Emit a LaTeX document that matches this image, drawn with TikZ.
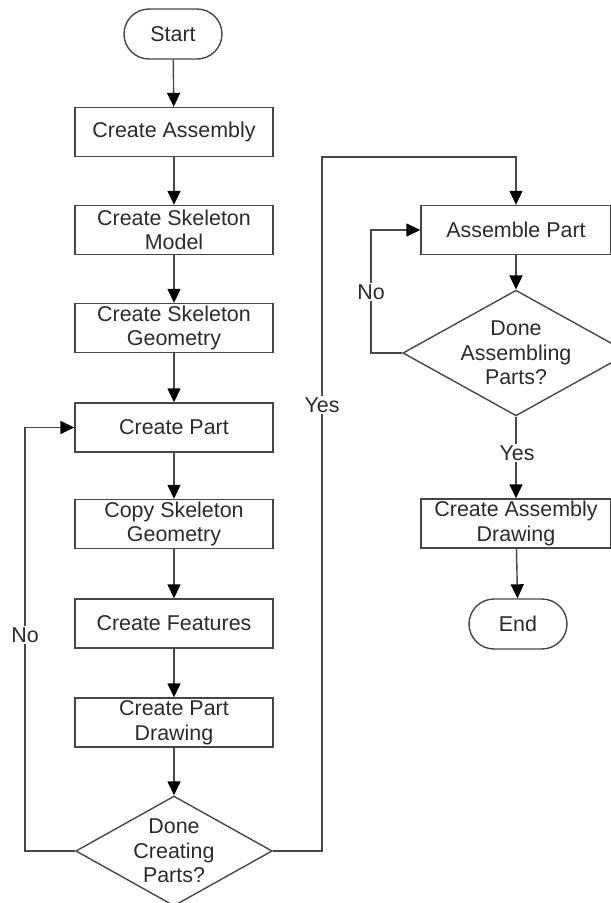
\documentclass[tikz,border=0pt]{standalone}
\usepackage{fontspec}
\setmainfont{Liberation Sans}
\usetikzlibrary{arrows.meta}
\usetikzlibrary{shapes.geometric,shapes.misc}

\definecolor{linegray}{HTML}{474747}
\definecolor{textgray}{HTML}{2B2B2B}

\tikzset{
  every node/.style={font=\fontsize{12.2}{14}\selectfont, text=textgray},
  stepbox/.style={draw=linegray, line width=0.8pt, rectangle, align=center,
    minimum width=3.96cm, minimum height=0.98cm, inner sep=0pt},
  rstepbox/.style={stepbox, minimum width=3.8cm},
  term/.style={draw=linegray, line width=0.8pt, rounded rectangle, align=center,
    minimum width=1.96cm, minimum height=1cm, inner sep=0pt},
  decide/.style={draw=linegray, line width=0.8pt, diamond, align=center,
    aspect=1.8, inner sep=0pt},
  lbl/.style={fill=white, inner sep=1pt},
  arr/.style={draw=linegray, line width=0.8pt,
    -{Triangle[length=0.28cm,width=0.26cm,fill=black,color=black]}}
}

\begin{document}
\begin{tikzpicture}[x=0.02cm,y=-0.02cm]
\useasboundingbox (0,0) rectangle (611,903);

% left column
\node[term] (start) at (173,34) {Start};
\node[stepbox] (asm) at (174,132) {Create Assembly};
\node[stepbox] (skm) at (174,230) {Create Skeleton\\Model};
\node[stepbox] (skg) at (174,328) {Create Skeleton\\Geometry};
\node[stepbox] (part) at (174,427.5) {Create Part};
\node[stepbox] (copy) at (174,524) {Copy Skeleton\\Geometry};
\node[stepbox] (feat) at (174,623.5) {Create Features};
\node[stepbox] (pdraw) at (174,722.5) {Create Part\\Drawing};
\node[decide, minimum width=3.84cm, minimum height=2.2cm] (done1) at (174,851)
  {Done\\Creating\\Parts?};

% right column
\node[rstepbox] (apart) at (516,230) {Assemble Part};
\node[decide, minimum width=3.8cm, minimum height=2.16cm] (done2) at (516,353)
  {Done\\Assembling\\Parts?};
\node[rstepbox] (cad) at (516,523.5) {Create Assembly\\Drawing};
\node[term] (end) at (518,624) {End};

% straight links
\draw[arr] (start) -- (asm);
\draw[arr] (asm) -- (skm);
\draw[arr] (skm) -- (skg);
\draw[arr] (skg) -- (part);
\draw[arr] (part) -- (copy);
\draw[arr] (copy) -- (feat);
\draw[arr] (feat) -- (pdraw);
\draw[arr] (pdraw) -- (done1);
\draw[arr] (apart) -- (done2);
\draw[arr] (done2) -- (cad);
\draw[arr] (cad) -- (end);

% loops
\coordinate (nol) at (25,851);
\draw[arr] (done1.west) -- (nol) |- (part.west);
\coordinate (yesl) at (322,157);
\draw[arr] (done1.east) -| (yesl) -| (apart.north);
\coordinate (nor) at (371,353);
\draw[arr] (done2.west) -- (nor) |- (apart.west);

% labels
\node[lbl] (no1) at (25,635) {No};
\node[lbl] (yes1) at (322,405) {Yes};
\node[lbl] (no2) at (371,292) {No};
\node[lbl] (yes2) at (517,453) {Yes};
\end{tikzpicture}
\end{document}
